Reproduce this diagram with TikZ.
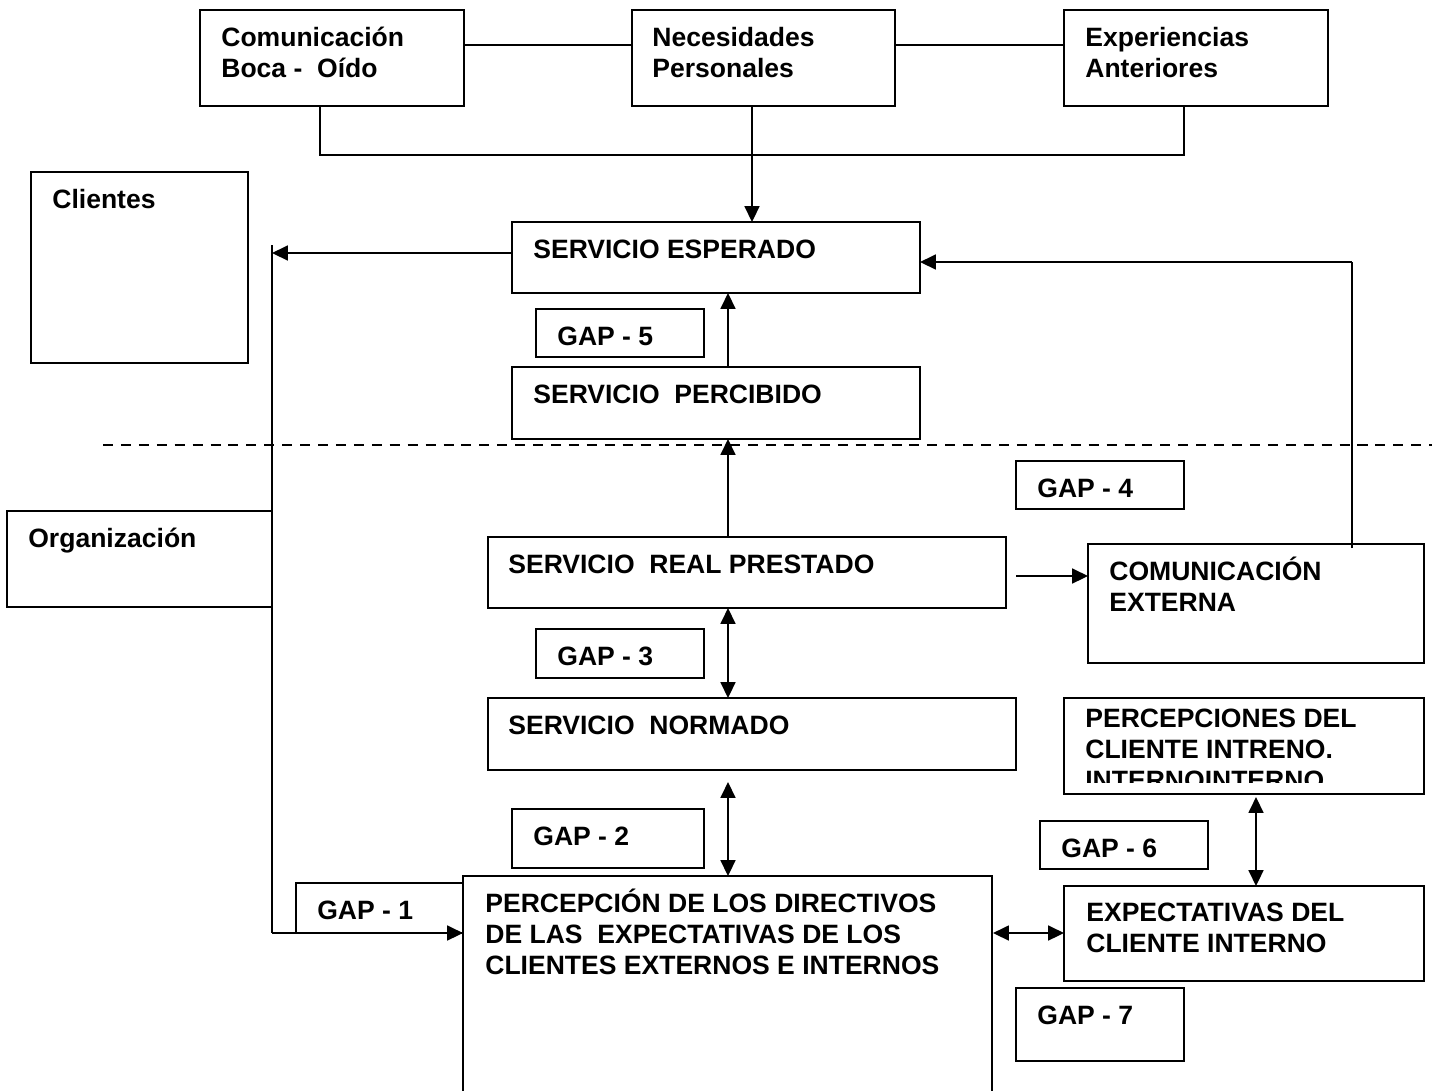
\documentclass[tikz,border=0pt]{standalone}
\usepackage{fontspec}
\setmainfont{Liberation Sans}
\usetikzlibrary{fit,arrows.meta,calc}
\begin{document}
\begin{tikzpicture}[x=0.02cm,y=-0.02cm,
  bx/.style={draw, line width=1.1pt, inner sep=0pt, outer sep=0pt, rectangle},
  txt/.style={anchor=base west, inner sep=0pt, align=left, font=\bfseries\fontsize{15.1pt}{17.6pt}\selectfont},
  ln/.style={line width=0.9pt},
  arr/.style={ln, -{Triangle[length=9pt,width=8.5pt]}},
  darr/.style={ln, {Triangle[length=9pt,width=8.5pt]}-{Triangle[length=9pt,width=8.5pt]}},
  dl/.style={line width=0.9pt, dash pattern=on 5.7pt off 4.5pt}
]
\clip (0,0) rectangle (1432,1090);
\fill[white] (0,0) rectangle (1432,1090);

% boxes
\node[bx, fit={(200,10) (464,106)}] (com) {};
\node[bx, fit={(632,10) (895,106)}] (nec) {};
\node[bx, fit={(1064,10) (1328,106)}] (exp) {};
\node[bx, fit={(31,172) (248,363)}] (cli) {};
\node[bx, fit={(512,222) (920,293)}] (esp) {};
\node[bx, fit={(536,309) (704,357)}] (gap5) {};
\node[bx, fit={(512,367) (920,439)}] (per) {};
\node[bx, fit={(1016,461) (1184,509)}] (gap4) {};
\node[bx, fit={(7,511) (272,607)}] (org) {};
\node[bx, fit={(488,537) (1006,608)}] (real) {};
\node[bx, fit={(1088,544) (1424,663)}] (cext) {};
\node[bx, fit={(536,629) (704,678)}] (gap3) {};
\node[bx, fit={(488,698) (1016,770)}] (norm) {};
\node[bx, fit={(1064,698) (1424,794)}] (pci) {};
\node[bx, fit={(512,809) (704,868)}] (gap2) {};
\node[bx, fit={(1040,821) (1208,869)}] (gap6) {};
\node[bx, fit={(463,876) (992,1110)}] (pdir) {};
\node[bx, fit={(296,883) (463,933)}] (gap1) {};
\node[bx, fit={(1064,886) (1424,981)}] (exi) {};
\node[bx, fit={(1016,988) (1184,1061)}] (gap7) {};

% texts (base west = baseline of the last line)
\node[txt] (com-t) at (221,77) {Comunicación\\Boca -\ \ Oído};
\node[txt] (nec-t) at (652,77) {Necesidades\\Personales};
\node[txt] (exp-t) at (1085,77) {Experiencias\\Anteriores};
\node[txt] (cli-t) at (52,208) {Clientes};
\node[txt] (esp-t) at (533,258) {SERVICIO ESPERADO};
\node[txt] (gap5-t) at (557,345) {GAP - 5};
\node[txt] (per-t) at (533,403) {SERVICIO\ \ PERCIBIDO};
\node[txt] (gap4-t) at (1037,497) {GAP - 4};
\node[txt] (org-t) at (28,547) {Organización};
\node[txt] (real-t) at (508,573) {SERVICIO\ \ REAL PRESTADO};
\node[txt] (cext-t) at (1109,611) {COMUNICACIÓN\\EXTERNA};
\node[txt] (gap3-t) at (557,665) {GAP - 3};
\node[txt] (norm-t) at (508,734) {SERVICIO\ \ NORMADO};
\begin{scope}
\clip (1064,698) rectangle (1424,782);
\node[txt] (pci-t) at (1085,789) {PERCEPCIONES DEL\\CLIENTE INTRENO.\\INTERNOINTERNO};
\end{scope}
\node[txt] (gap2-t) at (533,845) {GAP - 2};
\node[txt] (gap6-t) at (1061,857) {GAP - 6};
\node[txt] (pdir-t) at (485,974) {PERCEPCIÓN DE LOS DIRECTIVOS\\DE LAS\ \ EXPECTATIVAS DE LOS\\CLIENTES EXTERNOS E INTERNOS};
\node[txt] (gap1-t) at (317,919) {GAP - 1};
\node[txt] (exi-t) at (1086,952) {EXPECTATIVAS DEL\\CLIENTE INTERNO};
\node[txt] (gap7-t) at (1037,1024) {GAP - 7};

% coordinates
\coordinate (trunkTop) at (272,245);
\coordinate (trunkBot) at (272,933);
\coordinate (rtop) at (1352,262);
\coordinate (dashL) at (103,445);
\coordinate (dashR) at (1432,445);

% connectors
\draw[ln] ($(com.north east)+(0,35)$) -- ($(nec.north west)+(0,35)$);
\draw[ln] ($(nec.north east)+(0,35)$) -- ($(exp.north west)+(0,35)$);
\draw[ln] ($(com.south west)+(120,0)$) -- ++(0,49) -| ($(exp.south west)+(120,0)$);
\draw[arr] ($(nec.south west)+(120,0)$) -- ($(esp.north west)+(240,0)$);

\draw[ln] (trunkTop) -- (trunkBot);
\draw[arr] ($(esp.north west)+(0,31)$) -- ($(trunkTop)+(0,8)$);
\draw[arr] (trunkBot) -- (pdir.west |- trunkBot);

\draw[ln] ($(cext.north west)+(264,4)$) -- (rtop);
\draw[arr] (rtop) -- (esp.east |- rtop);

\draw[arr] ($(per.north west)+(216,0)$) -- ($(esp.south west)+(216,0)$);
\draw[dl] (dashL) -- (dashR);
\draw[arr] ($(real.north west)+(240,0)$) -- ($(per.south west)+(216,0)$);
\draw[arr] ($(real.north east)+(10,39)$) -- ($(cext.north west)+(0,32)$);
\draw[darr] ($(real.south west)+(240,0)$) -- ($(norm.north west)+(240,0)$);
\draw[darr] ($(norm.south west)+(240,12)$) -- ($(pdir.north west)+(265,0)$);
\draw[darr] ($(pci.south west)+(192,3)$) -- ($(exi.north west)+(192,0)$);
\draw[darr] ($(pdir.north east)+(1,57)$) -- ($(exi.north west)+(0,47)$);
\end{tikzpicture}
\end{document}
